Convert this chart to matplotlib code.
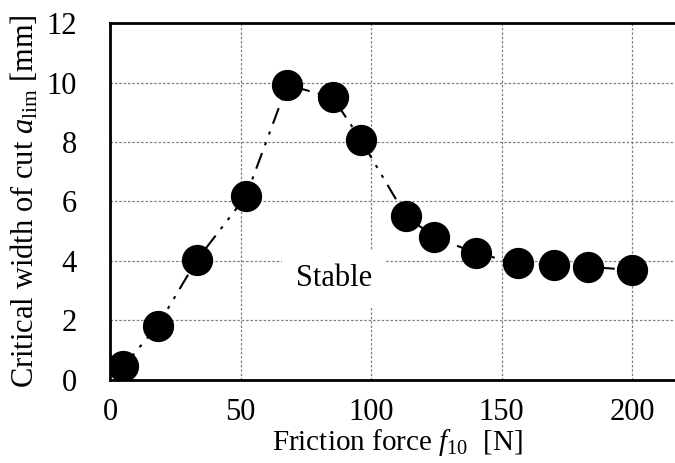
import matplotlib.pyplot as plt

plt.rcParams['font.family'] = 'Liberation Serif'
plt.rcParams['mathtext.fontset'] = 'custom'
plt.rcParams['mathtext.rm'] = 'Liberation Serif'
plt.rcParams['mathtext.it'] = 'Liberation Serif:italic'

friction = [5.1, 18.3, 33.2, 52.1, 67.9, 85.3, 96.0, 113.3, 124.1, 140.1, 156.1, 170.1, 183.0, 199.9]
a_lim = [0.45, 1.82, 4.02, 6.18, 9.92, 9.5, 8.08, 5.51, 4.81, 4.26, 3.92, 3.86, 3.80, 3.69]

xticks = [0, 50, 100, 150, 200]
yticks = [0, 2, 4, 6, 8, 10, 12]

fig = plt.figure(figsize=(6.75, 4.63), dpi=100)
ax = fig.add_axes([0.163, 0.18, 0.851, 0.77])

ax.plot(friction, a_lim, color='black', lw=1.5, ls=(0, (8, 4, 1.5, 4, 1.5, 4)),
        marker='o', ms=21.5, mfc='black', mec='black', zorder=3)

ax.set_xlim(0, 220)
ax.set_ylim(0, 12)
ax.set_xticks(xticks)
ax.set_yticks(yticks)
ax.grid(True, color='#808080', ls=(0, (2, 1.5)), lw=0.9)
ax.tick_params(length=0, labelsize=22)
ax.tick_params(axis='x', pad=13)
ax.tick_params(axis='y', pad=24)

for s in ['left', 'bottom', 'top']:
    ax.spines[s].set_linewidth(2)
ax.spines['right'].set_visible(False)

ax.text(85.8, 3.39, 'Stable', fontsize=22, ha='center', va='center',
        bbox=dict(facecolor='white', edgecolor='none', pad=10), zorder=2)

ax.set_xlabel('Friction force $f_{10}$  [N]', fontsize=21, labelpad=0)
ax.set_ylabel('Critical width of cut $a_{\\mathrm{lim}}$ [mm]', fontsize=22, labelpad=4)

fig.savefig('out.png', dpi=100)
